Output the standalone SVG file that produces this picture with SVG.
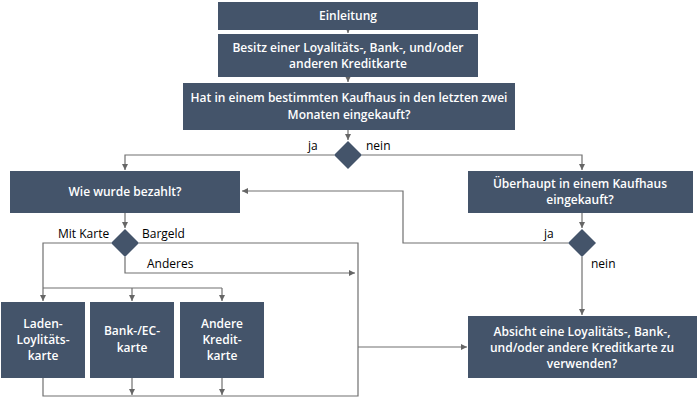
<svg xmlns="http://www.w3.org/2000/svg" width="698" height="403" viewBox="0 0 698 403">
<defs>
<marker id="a" markerWidth="8" markerHeight="8" refX="6" refY="3" orient="auto" markerUnits="userSpaceOnUse"><path d="M0,0 L6,3 L0,6 Z" fill="#666"/></marker>
<style>
.b{fill:#44546a}
.t{font-family:"Open Sans","Liberation Sans",sans-serif;font-size:12px;fill:#fff;text-anchor:middle;font-weight:600}
.l{font-family:"Open Sans","Liberation Sans",sans-serif;font-size:12px;fill:#000}
.c{fill:none;stroke:#707070;stroke-width:1.2}
</style>
</defs>
<rect width="698" height="403" fill="#fff"/>
<g id="connectors">
<path class="c" d="M348,30 V33" marker-end="url(#a)"/>
<path class="c" d="M348,77 V82" marker-end="url(#a)"/>
<path class="c" d="M348,130 V140" marker-end="url(#a)"/>
<path class="c" d="M334,155 H125 V170" marker-end="url(#a)"/>
<path class="c" d="M362,155 H582 V170" marker-end="url(#a)"/>
<path class="c" d="M125,213 V228" marker-end="url(#a)"/>
<path class="c" d="M582,213 V228" marker-end="url(#a)"/>
<path class="c" d="M568,243 H403 V191 H242" marker-end="url(#a)"/>
<path class="c" d="M582,257 V315" marker-end="url(#a)"/>
<path class="c" d="M111,243 H43 V301" marker-end="url(#a)"/>
<path class="c" d="M43,288 H222"/>
<path class="c" d="M132,288 V301" marker-end="url(#a)"/>
<path class="c" d="M222,288 V301" marker-end="url(#a)"/>
<path class="c" d="M139,243 H358 V396 H43 V378"/>
<path class="c" d="M358,347 H467" marker-end="url(#a)"/>
<path class="c" d="M125,257 V273 H355" marker-end="url(#a)"/>
<path class="c" d="M132,378 V395" marker-end="url(#a)"/>
<path class="c" d="M222,378 V395" marker-end="url(#a)"/>
</g>
<g id="n1"><rect class="b" x="218" y="2" width="260" height="28"/><text class="t" x="348" y="20">Einleitung</text></g>
<g id="n2"><rect class="b" x="218" y="34" width="260" height="43"/><text class="t" x="348" y="52">Besitz einer Loyalitäts-, Bank-, und/oder</text><text class="t" x="348" y="68">anderen Kreditkarte</text></g>
<g id="n3"><rect class="b" x="183" y="83" width="332" height="47"/><text class="t" x="349" y="102">Hat in einem bestimmten Kaufhaus in den letzten zwei</text><text class="t" x="349" y="119">Monaten eingekauft?</text></g>
<g id="d1"><path class="b" d="M348,141 L362,155 L348,169 L334,155 Z"/></g>
<text class="l" x="308" y="150">ja</text><text class="l" x="366" y="150">nein</text>
<g id="n4"><rect class="b" x="10" y="171" width="230" height="42"/><text class="t" x="125" y="196">Wie wurde bezahlt?</text></g>
<g id="n5"><rect class="b" x="468" y="171" width="225" height="42"/><text class="t" x="580" y="188">Überhaupt in einem Kaufhaus</text><text class="t" x="580" y="204">eingekauft?</text></g>
<g id="d2"><path class="b" d="M125,229 L139,243 L125,257 L111,243 Z"/></g>
<text class="l" x="58" y="238">Mit Karte</text><text class="l" x="142" y="238">Bargeld</text><text class="l" x="147" y="268">Anderes</text>
<g id="d3"><path class="b" d="M582,229 L596,243 L582,257 L568,243 Z"/></g>
<text class="l" x="544" y="238">ja</text><text class="l" x="591" y="268">nein</text>
<g id="n6"><rect class="b" x="1" y="302" width="84" height="76"/><text class="t" x="43" y="328">Laden-</text><text class="t" x="43" y="344">Loylitäts-</text><text class="t" x="43" y="360">karte</text></g>
<g id="n7"><rect class="b" x="90" y="302" width="84" height="76"/><text class="t" x="132" y="335">Bank-/EC-</text><text class="t" x="132" y="352">karte</text></g>
<g id="n8"><rect class="b" x="180" y="302" width="84" height="76"/><text class="t" x="222" y="328">Andere</text><text class="t" x="222" y="344">Kredit-</text><text class="t" x="222" y="360">karte</text></g>
<g id="n9"><rect class="b" x="468" y="316" width="229" height="62"/><text class="t" x="582" y="336">Absicht eine Loyalitäts-, Bank-,</text><text class="t" x="582" y="352">und/oder andere Kreditkarte zu</text><text class="t" x="582" y="368">verwenden?</text></g>
</svg>
